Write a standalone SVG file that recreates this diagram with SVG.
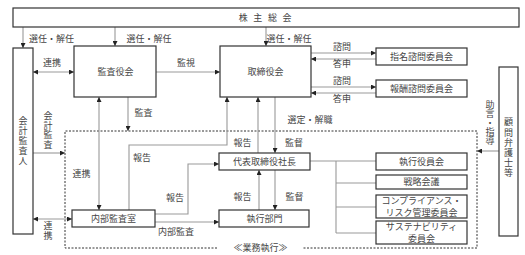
<svg xmlns="http://www.w3.org/2000/svg" width="525" height="255" viewBox="0 0 525 255">
<style>
.box{fill:#fff;stroke:#333;stroke-width:1.2}
.ln{fill:none;stroke:#999;stroke-width:1.1}
.ar{marker-end:url(#ah)}
.ar2{marker-start:url(#ah);marker-end:url(#ah)}
text{font-family:"Noto Sans CJK JP","Noto Sans",sans-serif;font-size:9px;fill:#444;text-anchor:middle}
.v{writing-mode:vertical-rl}
.dash{fill:none;stroke:#333;stroke-width:1;stroke-dasharray:2 1.5}
</style>
<defs>
<marker id="ah" viewBox="0 0 5 5" refX="5" refY="2.5" markerWidth="5" markerHeight="5" markerUnits="userSpaceOnUse" orient="auto-start-reverse">
<path d="M0,0 L5,2.5 L0,5 z" fill="#222"/>
</marker>
</defs>
<rect width="525" height="255" fill="#fff"/>

<g id="gyoumu-frame">
<path class="dash" d="M217,248 H65 V131 H477 V248 H302"/>
<text x="260.5" y="251.4">≪業務執行≫</text>
</g>

<g id="connectors">
<path class="ln ar" d="M23,27 V48"/>
<path class="ln ar" d="M115,27 V46"/>
<path class="ln ar" d="M266,27 V46"/>
<path class="ln ar2" d="M33,72 H74"/>
<path class="ln ar" d="M156,72 H220"/>
<path class="ln ar" d="M311,53 H376"/>
<path class="ln ar" d="M376,59 H311"/>
<path class="ln ar" d="M311,87 H376"/>
<path class="ln ar" d="M376,93 H311"/>
<path class="ln ar" d="M128,97 V131"/>
<path class="ln ar2" d="M99,97 V210"/>
<path class="ln ar" d="M129,210 V145 H227 V97"/>
<path class="ln ar" d="M258,153 V97"/>
<path class="ln ar" d="M275,97 V153"/>
<path class="ln ar" d="M33,153 H65"/>
<path class="ln ar2" d="M33,219 H72"/>
<path class="ln ar" d="M155,214 H188 V164 H219"/>
<path class="ln ar" d="M155,222 H219"/>
<path class="ln ar" d="M259,210 V170"/>
<path class="ln ar" d="M275,170 V210"/>
<path class="ln ar" d="M499,151 H477"/>
<path class="ln" d="M310,161 H376 M336,161 V233 M336,183 H376 M336,207 H376 M336,233 H376"/>
<text x="51.5" y="42.4">選任・解任</text>
<text x="149" y="42.4">選任・解任</text>
<text x="289" y="42.4">選任・解任</text>
<text x="52" y="66.4">連携</text>
<text x="186" y="66.4">監視</text>
<text x="342" y="50.4">諮問</text>
<text x="342" y="67.4">答申</text>
<text x="342" y="84.4">諮問</text>
<text x="342" y="102.4">答申</text>
<text x="143.5" y="116.4">監査</text>
<text x="310" y="123.4">選定・解職</text>
<text x="242.5" y="146.4">報告</text>
<text x="294" y="146.4">監督</text>
<text x="142" y="161.4">報告</text>
<text x="81.5" y="177.4">連携</text>
<text x="175" y="201.4">報告</text>
<text x="242.5" y="200.4">報告</text>
<text x="294.5" y="200.4">監督</text>
<text x="176" y="235.4">内部監査</text>
<text class="v" x="48" y="130.2" letter-spacing="0.4">会計監査</text>
<text class="v" x="48" y="231.5" letter-spacing="1">連携</text>
<text class="v" x="490" y="122.8" letter-spacing="0">助言・指導</text>
</g>

<g id="kabunushi">
<rect class="box" x="13" y="8" width="506" height="19"/>
<text x="266" y="21" letter-spacing="1.75">株 主 総 会</text>
</g>
<g id="kaikei">
<rect class="box" x="13" y="48" width="20" height="186"/>
<text class="v" x="23" y="141" letter-spacing="0.8">会計監査人</text>
</g>
<g id="kansayakukai">
<rect class="box" x="74" y="46" width="82" height="51"/>
<text x="115.5" y="75.4">監査役会</text>
</g>
<g id="torishimariyakukai">
<rect class="box" x="220" y="46" width="91" height="51"/>
<text x="265.5" y="75.4">取締役会</text>
</g>
<g id="shimei">
<rect class="box" x="376" y="48" width="91" height="17"/>
<text x="421.5" y="59.6">指名諮問委員会</text>
</g>
<g id="houshu">
<rect class="box" x="376" y="80" width="91" height="17"/>
<text x="421.5" y="91.6">報酬諮問委員会</text>
</g>
<g id="daihyo">
<rect class="box" x="219" y="153" width="91" height="17"/>
<text x="264.5" y="164.6">代表取締役社長</text>
</g>
<g id="naibukansa">
<rect class="box" x="72" y="210" width="83" height="17"/>
<text x="113.5" y="221.6">内部監査室</text>
</g>
<g id="shikkoubumon">
<rect class="box" x="219" y="210" width="90" height="17"/>
<text x="264.5" y="221.6">執行部門</text>
</g>
<g id="shikkouyakuin">
<rect class="box" x="376" y="153" width="91" height="17"/>
<text x="421.5" y="164.6">執行役員会</text>
</g>
<g id="senryaku">
<rect class="box" x="376" y="175" width="91" height="14"/>
<text x="421.5" y="185.4">戦略会議</text>
</g>
<g id="compliance">
<rect class="box" x="376" y="195" width="91" height="23"/>
<text><tspan x="421.5" y="204.4">コンプライアンス・</tspan><tspan x="421.5" y="216.4">リスク管理委員会</tspan></text>
</g>
<g id="sustainability">
<rect class="box" x="376" y="221" width="91" height="23"/>
<text><tspan x="421.5" y="230.4">サステナビリティ</tspan><tspan x="421.5" y="242.4">委員会</tspan></text>
</g>
<g id="komon">
<rect class="box" x="499" y="67" width="19" height="169"/>
<text class="v" x="508.5" y="148" letter-spacing="1.2">顧問弁護士等</text>
</g>
</svg>
